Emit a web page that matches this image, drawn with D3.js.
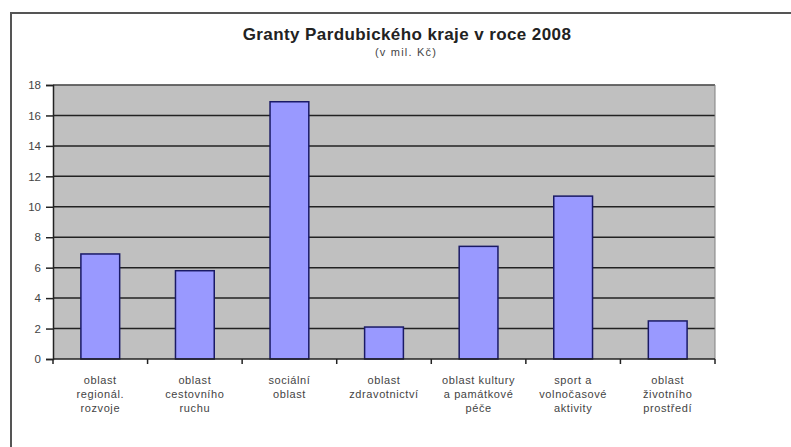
<!DOCTYPE html>
<html>
<head>
<meta charset="utf-8">
<script src="https://cdn.jsdelivr.net/npm/d3@7"></script>
<style>
  body { margin: 0; background: #fff; }
  text { font-family: "Liberation Sans", Arial, sans-serif; }
</style>
</head>
<body>
<div id="chart"></div>
<script>
// Chart data
var categories = [
  ["oblast", "regionál.", "rozvoje"],
  ["oblast", "cestovního", "ruchu"],
  ["sociální", "oblast"],
  ["oblast", "zdravotnictví"],
  ["oblast kultury", "a památkové", "péče"],
  ["sport a", "volnočasové", "aktivity"],
  ["oblast", "životního", "prostředí"]
];
var values = [6.9, 5.8, 16.9, 2.1, 7.4, 10.7, 2.5];
var yTicks = [0, 2, 4, 6, 8, 10, 12, 14, 16, 18];

var svgWidth = 791;
var svgHeight = 447;

// Plot area
var margin = { top: 85, right: 76, bottom: 88, left: 53 };
var chartWidth = svgWidth - margin.left - margin.right;
var chartHeight = svgHeight - margin.top - margin.bottom;

var svg = d3.select("#chart")
  .append("svg")
  .attr("width", svgWidth)
  .attr("height", svgHeight);

// Outer frame (top and left edges)
svg.append("path")
  .attr("d", "M11,447 L11,13 L791,13")
  .attr("fill", "none")
  .attr("stroke", "#555")
  .attr("stroke-width", 2);

// Title
svg.append("text")
  .attr("x", 407)
  .attr("y", 40)
  .attr("text-anchor", "middle")
  .attr("font-size", 17)
  .attr("letter-spacing", 0.4)
  .attr("font-weight", "bold")
  .attr("fill", "#222")
  .text("Granty Pardubického kraje v roce 2008");

svg.append("text")
  .attr("x", 406)
  .attr("y", 56)
  .attr("text-anchor", "middle")
  .attr("font-size", 11)
  .attr("letter-spacing", 1.2)
  .attr("fill", "#444")
  .text("(v mil. Kč)");

var chartGroup = svg.append("g")
  .attr("transform", `translate(${margin.left}, ${margin.top})`);

var xScale = d3.scaleBand()
  .domain(d3.range(categories.length))
  .range([0, chartWidth])
  .paddingInner(0.59)
  .paddingOuter(0.295);

var xBand = d3.scaleBand()
  .domain(d3.range(categories.length))
  .range([0, chartWidth]);

var yScale = d3.scaleLinear()
  .domain([0, 18])
  .range([chartHeight, 0]);

// Plot background
chartGroup.append("rect")
  .attr("width", chartWidth)
  .attr("height", chartHeight)
  .attr("fill", "#c0c0c0");

// Gridlines
chartGroup.append("g")
  .selectAll("line")
  .data(yTicks.filter(d => d > 0))
  .enter()
  .append("line")
  .attr("x1", 0)
  .attr("x2", chartWidth)
  .attr("y1", d => yScale(d))
  .attr("y2", d => yScale(d))
  .attr("stroke", "#222")
  .attr("stroke-width", 1.5);

// Plot border top/right
chartGroup.append("path")
  .attr("d", `M0,0 L${chartWidth},0 L${chartWidth},${chartHeight}`)
  .attr("fill", "none")
  .attr("stroke", "#808080")
  .attr("stroke-width", 1);

// Bars
chartGroup.selectAll(".bar")
  .data(values)
  .enter()
  .append("rect")
  .attr("class", "bar")
  .attr("x", (d, i) => xScale(i))
  .attr("width", xScale.bandwidth())
  .attr("y", d => yScale(d))
  .attr("height", d => chartHeight - yScale(d))
  .attr("fill", "#9999ff")
  .attr("stroke", "#1a1a66")
  .attr("stroke-width", 1.5);

// Left axis
var leftAxis = d3.axisLeft(yScale)
  .tickValues(yTicks)
  .tickSize(7)
  .tickPadding(5)
  .tickFormat(d3.format("d"));

var yAxis = chartGroup.append("g").call(leftAxis);
yAxis.select(".domain").attr("stroke", "#222").attr("stroke-width", 1.5);
yAxis.selectAll(".tick line").attr("stroke", "#222").attr("stroke-width", 1.5);
yAxis.selectAll(".tick text")
  .attr("font-size", 11.5)
  .attr("fill", "#444")
  .style("font-family", "'Liberation Sans', Arial, sans-serif");

// Bottom axis line with ticks between categories
var xAxisGroup = chartGroup.append("g")
  .attr("transform", `translate(0, ${chartHeight})`);

xAxisGroup.append("line")
  .attr("x1", 0)
  .attr("x2", chartWidth)
  .attr("stroke", "#222")
  .attr("stroke-width", 1.5);

xAxisGroup.selectAll(".xtick")
  .data(d3.range(categories.length + 1))
  .enter()
  .append("line")
  .attr("class", "xtick")
  .attr("x1", d => d * xBand.step())
  .attr("x2", d => d * xBand.step())
  .attr("y1", 0)
  .attr("y2", 5)
  .attr("stroke", "#222")
  .attr("stroke-width", 1.5);

// Category labels
var labels = xAxisGroup.selectAll(".xlabel")
  .data(categories)
  .enter()
  .append("text")
  .attr("class", "xlabel")
  .attr("text-anchor", "middle")
  .attr("font-size", 11)
  .attr("letter-spacing", 0.6)
  .attr("fill", "#444")
  .attr("transform", (d, i) => `translate(${xBand(i) + xBand.bandwidth() / 2}, 25)`);

labels.selectAll("tspan")
  .data(d => d)
  .enter()
  .append("tspan")
  .attr("x", 0)
  .attr("y", (d, i) => i * 14)
  .text(d => d);
</script>
</body>
</html>
